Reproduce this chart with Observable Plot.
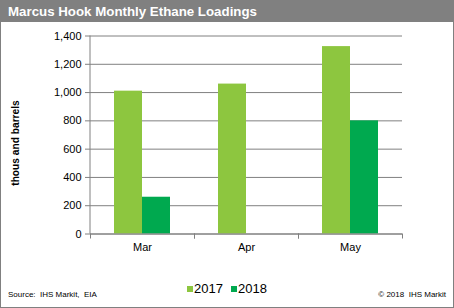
<!DOCTYPE html>
<html><head><meta charset="utf-8">
<script src="https://cdn.jsdelivr.net/npm/d3@7"></script>
<script src="https://cdn.jsdelivr.net/npm/@observablehq/plot@0.6"></script>
<style>
body{margin:0;background:#fff;}
#wrap{position:relative;width:454px;height:308px;overflow:hidden;font-family:Arial,"Liberation Sans",sans-serif;background:#fff;}
#title{position:absolute;left:0;top:0;width:454px;height:22px;background:#808080;color:#fff;font-weight:bold;font-size:13.3px;line-height:23px;padding-left:8px;box-sizing:border-box;white-space:nowrap;}
#border{position:absolute;left:0;top:0;width:454px;height:308px;border:1px solid #808080;box-sizing:border-box;pointer-events:none;}
#chart{position:absolute;left:0;top:22px;}
#ylabel{position:absolute;left:15px;top:143px;transform:translate(-50%,-50%) rotate(-90deg);font-weight:bold;font-size:10.2px;white-space:nowrap;}
#legend{position:absolute;top:281px;left:0;width:454px;text-align:center;font-size:13px;line-height:16px;}
#legend span.item{display:inline-block;margin:0 4px;}
#legend i{display:inline-block;width:6px;height:6px;margin-right:1px;vertical-align:1px;}
#source{position:absolute;left:8px;top:290px;font-size:8px;}
#copy{position:absolute;right:8px;top:290px;font-size:8px;}
</style>
</head><body>
<div id="wrap">
  <div id="title">Marcus Hook Monthly Ethane Loadings</div>
  <div id="chart"></div>
  <div id="ylabel">thous and barrels</div>
  <div id="legend"></div>
  <div id="source">Source:&nbsp; IHS Markit,&nbsp; EIA</div>
  <div id="copy">© 2018&nbsp; IHS Markit</div>
  <div id="border"></div>
</div>
<script>
const months = ["Mar", "Apr", "May"];
const years = ["2017", "2018"];
const values2017 = [1010, 1060, 1325];
const values2018 = [260, null, 800];
const yTicks = [0, 200, 400, 600, 800, 1000, 1200, 1400];
const colors = ["#8DC63F", "#00A94F"];

const rows = [];
months.forEach((m, i) => {
  if (values2017[i] != null) rows.push({month: m, year: "2017", value: values2017[i]});
  if (values2018[i] != null) rows.push({month: m, year: "2018", value: values2018[i]});
});

const chart = Plot.plot({
  width: 454,
  height: 250,
  marginLeft: 90,
  marginRight: 52,
  marginTop: 13.5,
  marginBottom: 38.5,
  style: {fontFamily: "Arial, 'Liberation Sans', sans-serif", fontSize: "11px", color: "#000", background: "transparent", overflow: "visible"},
  fx: {domain: months, padding: 0, label: null, tickSize: 0, tickPadding: 9, axis: "bottom"},
  x: {domain: years, paddingInner: 0, paddingOuter: 0.8, axis: null},
  y: {domain: [0, 1400], axis: null},
  color: {domain: years, range: colors},
  marks: [
    Plot.gridY(yTicks, {stroke: "#808080", strokeOpacity: 1}),
    Plot.barY(rows, {fx: "month", x: "year", y: "value", fill: "year"}),
    Plot.ruleY([0], {stroke: "#808080"}),
    Plot.frame({anchor: "left", stroke: "#808080", insetTop: 198, insetBottom: -4}),
    Plot.frame({anchor: "right", stroke: "#808080", insetTop: 198, insetBottom: -4}),
    Plot.axisY(yTicks, {tickFormat: d3.format(","), tickSize: 5, tickPadding: 4, label: null, facetAnchor: "left"})
  ]
});
document.getElementById("chart").appendChild(chart);

// y axis line and tick colour
const svg = d3.select(chart);
svg.selectAll("[aria-label='y-axis tick'] path, [aria-label='y-axis tick'] line").attr("stroke", "#808080");
const ys = chart.scale("y");
const yScale = d3.scaleLinear(ys.domain, ys.range);
svg.append("line")
  .attr("x1", 90).attr("x2", 90)
  .attr("y1", yScale(1400)).attr("y2", yScale(0))
  .attr("stroke", "#808080");

const legend = document.getElementById("legend");
years.forEach((y, i) => {
  const s = document.createElement("span");
  s.className = "item";
  s.innerHTML = `<i style="background:${colors[i]}"></i>${y}`;
  legend.appendChild(s);
});
</script>
</body></html>
